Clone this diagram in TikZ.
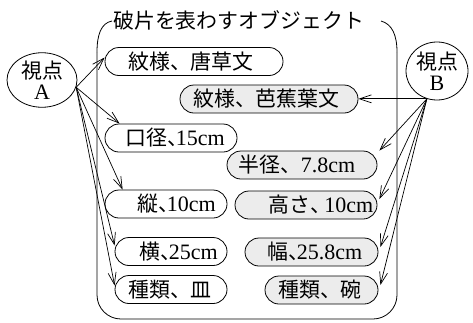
\documentclass[tikz,border=0pt]{standalone}
\usepackage{fontspec}
\setmainfont{Liberation Serif}
\newfontfamily\cjk[Scale=0.95]{Noto Sans CJK JP}
\usetikzlibrary{arrows.meta,shapes.geometric}
\newcommand{\nc}{{\cjk 、}\kern-0.55em}
\newcommand{\mc}{{\cjk 、}\kern-0.3em}
\begin{document}
\begin{tikzpicture}[x=1pt,y=-1pt,
  font=\fontsize{22}{20}\selectfont,
  box/.style={draw, line width=0.8pt, rounded corners=14pt, minimum height=28pt, inner sep=0pt},
  wbox/.style={box, fill=white},
  gbox/.style={box, fill=gray!15},
  txt/.style={inner sep=0pt, anchor=west},
  arr/.style={line width=0.7pt, -{Straight Barb[length=12pt,width=8pt]}},
  view/.style={draw, ellipse, line width=0.8pt, inner sep=0pt, align=center}]
\useasboundingbox (0,0) rectangle (473,322);

% container
\draw[line width=0.8pt] (112,21) .. controls (101,23) and (97,35) .. (97,52);
\draw[line width=0.8pt, rounded corners=24pt] (97,52) -- (97,319) -- (397,319) -- (397,52);
\draw[line width=0.8pt] (397,52) .. controls (397,35) and (392,24) .. (381,21);
\node[txt] (title) at (113,20) {\cjk 破片を表わすオブジェクト};

% boxes
\node[wbox, minimum width=178pt] (n1) at (194,61.5) {};
\node[gbox, minimum width=178pt] (n2) at (269,99) {};
\node[wbox, minimum width=132pt] (n3) at (171,138) {};
\node[gbox, minimum width=150pt] (n4) at (302,165) {};
\node[wbox, minimum width=122pt] (n5) at (166,204) {};
\node[gbox, minimum width=142pt] (n6) at (306,205) {};
\node[wbox, minimum width=112pt] (n7) at (171,251.5) {};
\node[gbox, minimum width=133pt] (n8) at (311.5,252) {};
\node[wbox, minimum width=112pt] (n9) at (171,289.5) {};
\node[gbox, minimum width=113pt] (n10) at (321.5,290) {};

% texts
\node[txt] (t1) at (128,61.5) {\cjk 紋様、唐草文};
\node[txt] (t2) at (193,99) {\cjk 紋様、芭蕉葉文};
\node[txt] (t3) at (125,138) {{\cjk 口径}\nc 15cm};
\node[txt] (t4) at (238,165) {{\cjk 半径、}7.8cm};
\node[txt] (t5) at (137,204) {{\cjk 縦}\nc 10cm};
\node[txt] (t6) at (268,205) {{\cjk 高さ}\mc 10cm};
\node[txt] (t7) at (139,251.5) {{\cjk 横}\nc 25cm};
\node[txt] (t8) at (267,252) {{\cjk 幅}\nc 25.8cm};
\node[txt] (t9) at (128,289.5) {\cjk 種類、皿};
\node[txt] (t10) at (278,290) {\cjk 種類、碗};

% viewpoints
\node[view, minimum width=70pt, minimum height=50pt] (A) at (42,80) {{\cjk 視点}\\[1pt]A};
\node[view, minimum width=62pt, minimum height=58pt] (B) at (437,71) {{\cjk 視点}\\[1pt]B};

% arrows from A
\draw[arr] (A.-12) -- ([yshift=4pt]n1.west);
\draw[arr] (A.-12) -- ([xshift=15pt]n3.north west);
\draw[arr] (A.-12) -- ([xshift=18pt]n5.north west);
\draw[arr] (A.-12) -- ([yshift=6pt]n7.west);
\draw[arr] (A.-12) -- ([yshift=4pt]n9.west);

% arrows from B
\draw[arr] (B.250) -- (n2.east |- B.250);
\draw[arr] (B.250) -- ([xshift=2pt]n4.north east);
\draw[arr] (B.250) -- ([xshift=2pt,yshift=6pt]n6.east);
\draw[arr] (B.250) -- ([xshift=2pt,yshift=5pt]n8.east);
\draw[arr] (B.250) -- ([xshift=2pt,yshift=5pt]n10.east);
\end{tikzpicture}
\end{document}
